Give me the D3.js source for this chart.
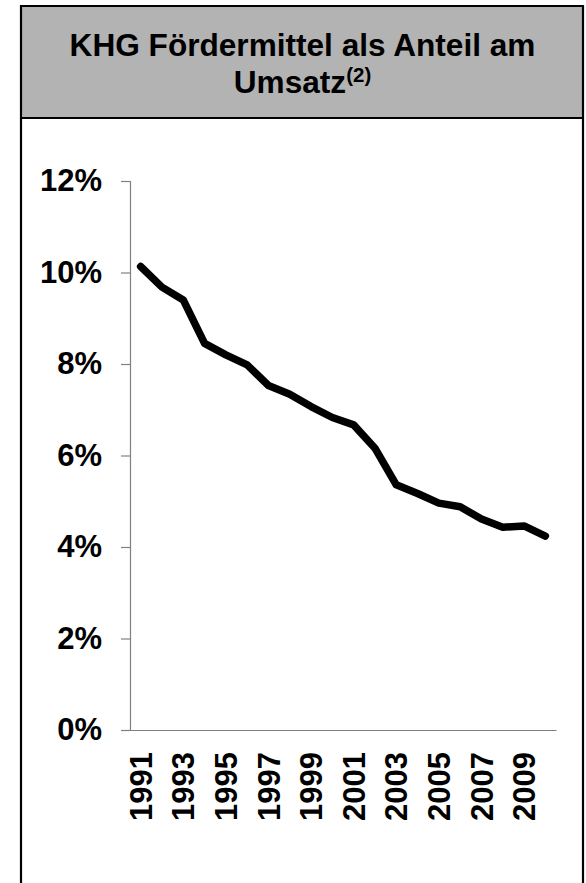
<!DOCTYPE html>
<html>
<head>
<meta charset="utf-8">
<script src="https://cdn.jsdelivr.net/npm/d3@7"></script>
<style>
  html, body { margin: 0; padding: 0; background: #fff; }
  svg { display: block; font-family: "Liberation Sans", Arial, sans-serif; }
</style>
</head>
<body>
<svg id="chart" width="586" height="883"></svg>
<script>
const years = [1991,1992,1993,1994,1995,1996,1997,1998,1999,2000,2001,2002,2003,2004,2005,2006,2007,2008,2009,2010];
const shares = [10.13,9.68,9.40,8.45,8.20,7.98,7.53,7.34,7.07,6.83,6.67,6.16,5.36,5.17,4.96,4.88,4.61,4.43,4.46,4.24];
const yTicks = [0,2,4,6,8,10,12];
const xLabelYears = [1991,1993,1995,1997,1999,2001,2003,2005,2007,2009];
const titleLine1 = "KHG Fördermittel als Anteil am";
const titleLine2 = "Umsatz";
const titleSup = "(2)";

const svg = d3.select("#chart");

// frame
const box = {left: 21, right: 583, top: 6, headerBottom: 118};
svg.append("rect")
  .attr("x", box.left).attr("y", box.top)
  .attr("width", box.right - box.left).attr("height", box.headerBottom - box.top)
  .attr("fill", "#b3b3b3");
svg.append("path")
  .attr("d", `M${box.left},900 V${box.top} H${box.right} V900`)
  .attr("fill", "none").attr("stroke", "#000").attr("stroke-width", 2.2);
svg.append("line")
  .attr("x1", box.left).attr("x2", box.right)
  .attr("y1", box.headerBottom).attr("y2", box.headerBottom)
  .attr("stroke", "#000").attr("stroke-width", 2.2);

// title
const cx = (box.left + box.right) / 2 + 0.5;
svg.append("text")
  .attr("x", cx).attr("y", 56)
  .attr("text-anchor", "middle")
  .attr("font-size", 31.6).attr("font-weight", "bold").attr("fill", "#000")
  .text(titleLine1);
const t2 = svg.append("text")
  .attr("x", cx).attr("y", 93)
  .attr("text-anchor", "middle")
  .attr("font-size", 31.6).attr("font-weight", "bold").attr("fill", "#000");
t2.append("tspan").text(titleLine2);
t2.append("tspan").attr("font-size", 20.5).attr("dy", -11.5).text(titleSup);

// scales
const x = d3.scaleBand().domain(years).range([130, 556]);
const y = d3.scaleLinear().domain([0, 12]).range([730, 181]);

// y axis
const yAxis = d3.axisLeft(y)
  .tickValues(yTicks)
  .tickSize(9).tickSizeOuter(9)
  .tickPadding(19)
  .tickFormat(d => d + "%");
const gy = svg.append("g").attr("transform", "translate(130,0)").call(yAxis);
gy.selectAll("path, line").attr("stroke", "#808080").attr("stroke-width", 1.2);
gy.selectAll("text")
  .attr("font-size", 31).attr("font-weight", "bold")
  .attr("font-family", "'Liberation Sans', Arial, sans-serif")
  .attr("fill", "#000");

// x axis
const xAxis = d3.axisBottom(x)
  .tickValues(xLabelYears)
  .tickSize(0).tickSizeOuter(0)
  .tickPadding(0);
const gx = svg.append("g").attr("transform", "translate(0,730)").call(xAxis);
gx.select(".domain").attr("stroke", "#808080").attr("stroke-width", 1.2);
gx.selectAll("text")
  .attr("font-size", 31).attr("font-weight", "bold")
  .attr("font-family", "'Liberation Sans', Arial, sans-serif")
  .attr("fill", "#000")
  .attr("transform", "rotate(-90)")
  .attr("text-anchor", "end")
  .attr("x", -22).attr("y", 0)
  .attr("dy", "0.36em");

// line
const line = d3.line()
  .x((d, i) => x(years[i]) + x.bandwidth() / 2)
  .y(d => y(d));
svg.append("path")
  .datum(shares)
  .attr("d", line)
  .attr("fill", "none")
  .attr("stroke", "#000")
  .attr("stroke-width", 7.5)
  .attr("stroke-linejoin", "round")
  .attr("stroke-linecap", "round");
</script>
</body>
</html>
